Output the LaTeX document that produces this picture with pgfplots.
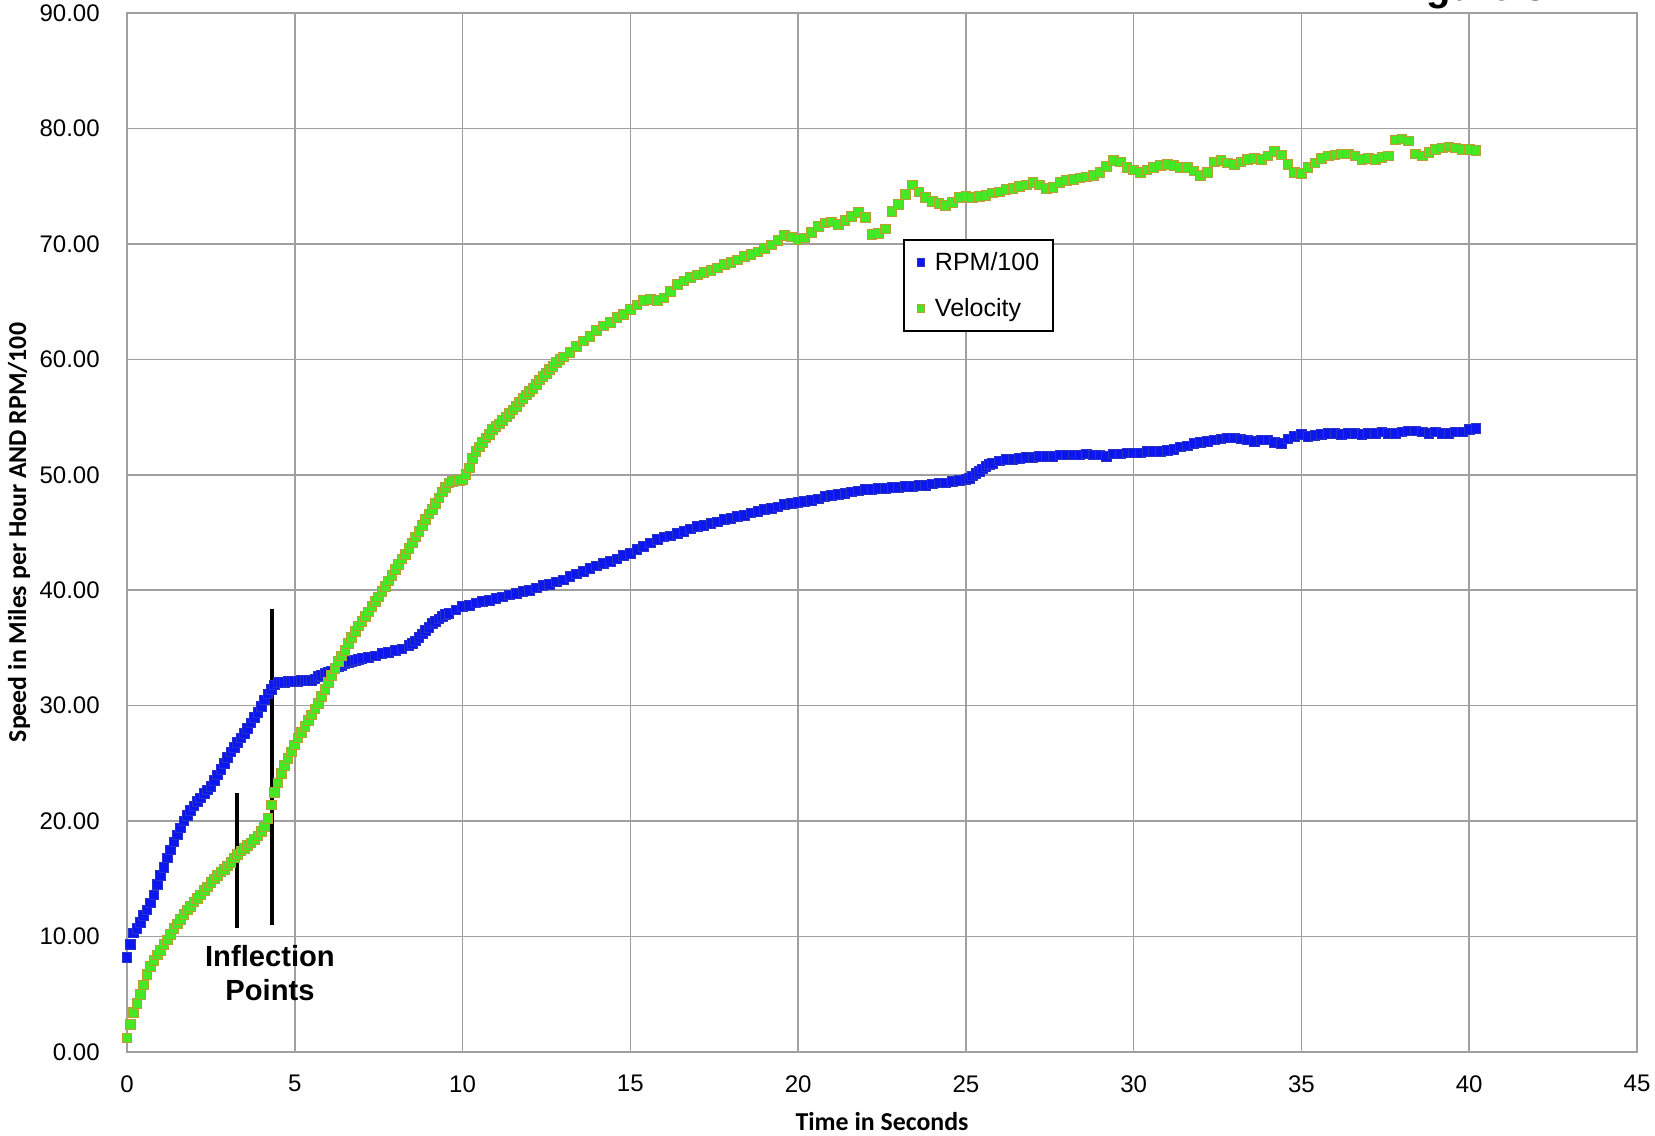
\documentclass[border=0pt]{standalone}
\usepackage{fontspec}
\setmainfont{Liberation Sans}
\newfontfamily\labelfont{Carlito}
\usepackage{pgfplots}
\pgfplotsset{compat=1.18}

\definecolor{rpmfill}{RGB}{12,22,238}
\definecolor{rpmedge}{RGB}{40,50,200}
\definecolor{velfill}{RGB}{70,232,35}
\definecolor{veledge}{RGB}{185,158,50}
\definecolor{gridgray}{RGB}{160,160,160}

\begin{document}
\begin{tikzpicture}
\useasboundingbox (0,0) rectangle (993pt,681pt);
\begin{axis}[
  at={(76.2pt,49.8pt)}, anchor=south west,
  scale only axis, width=906pt, height=623.4pt,
  xmin=0, xmax=45, ymin=0, ymax=90,
  xtick={0,5,...,45}, ytick={0,10,...,90},
  major tick length=0pt,
  grid=major,
  major grid style={gridgray, line width=0.9pt},
  axis line style={gridgray, line width=0.9pt},
  clip=false,
  /pgf/number format/assume math mode=true,
  tick label style={font=\fontsize{14.4}{17}\selectfont, inner sep=0pt},
  y tick label style={/pgf/number format/.cd, fixed, fixed zerofill, precision=2, /tikz/.cd, anchor=east, xshift=-16.2pt},
  x tick label style={anchor=north, yshift=-13.8pt},
  xlabel={Time in Seconds},
  ylabel={Speed in Miles per Hour AND RPM/100},
  label style={font=\labelfont\bfseries\fontsize{15.5}{18}\selectfont, inner sep=0pt},
  xlabel style={at={(axis description cs:0.5,-0.07507)}, anchor=base},
  ylabel style={at={(axis description cs:-0.0715,0.5)}, anchor=center},
  legend style={at={(axis description cs:0.5139,0.7825)}, anchor=north west,
    draw=black, line width=1.2pt, font=\fontsize{15}{18}\selectfont,
    inner xsep=8pt, inner ysep=7.5pt, row sep=15pt, column sep=6pt,
    nodes={inner sep=0pt}},
  legend cell align=left,
  legend image code/.code={\draw[#1, mark size=2.3pt] plot coordinates {(0pt,0pt)};},
]

% engine speed divided by 100
\addplot[only marks, mark=square*, mark size=2.9pt, mark options={fill=rpmfill, draw=rpmedge, line width=0.6pt}]
coordinates {
(0,8.2)(0.1,9.3)(0.2,10.3)(0.3,10.7)(0.4,11.2)(0.5,11.8)(0.6,12.3)(0.7,12.9)(0.8,13.6)(0.9,14.5)
(1.0,15.3)(1.1,16.0)(1.2,16.8)(1.3,17.5)(1.4,18.2)(1.5,18.8)(1.6,19.4)(1.7,20.0)(1.8,20.5)(1.9,20.9)
(2.0,21.3)(2.1,21.7)(2.2,22.0)(2.3,22.4)(2.4,22.7)(2.5,23.0)(2.6,23.5)(2.7,24.0)(2.8,24.5)(2.9,25.0)
(3.0,25.5)(3.1,26.0)(3.2,26.4)(3.3,26.8)(3.4,27.2)(3.5,27.6)(3.6,28.0)(3.7,28.5)(3.8,29.0)(3.9,29.4)
(4.0,29.9)(4.1,30.5)(4.2,31.0)(4.3,31.4)(4.4,31.8)(4.5,32.0)(4.6,32.0)(4.7,32.0)(4.8,32.1)(4.9,32.1)
(5.0,32.1)(5.1,32.1)(5.2,32.2)(5.3,32.2)(5.4,32.2)(5.5,32.2)(5.6,32.3)(5.7,32.5)(5.8,32.6)(5.9,32.8)
(6.0,32.9)(6.1,33.0)(6.2,33.2)(6.3,33.4)(6.4,33.5)(6.5,33.6)(6.6,33.7)(6.7,33.8)(6.8,33.9)(6.9,34.0)
(7.0,34.1)(7.2,34.2)(7.4,34.3)(7.6,34.5)(7.8,34.6)(8.0,34.8)(8.2,34.9)(8.4,35.2)(8.5,35.4)(8.6,35.6)
(8.7,35.9)(8.8,36.2)(8.9,36.5)(9.0,36.8)(9.1,37.1)(9.2,37.3)(9.3,37.5)(9.4,37.7)(9.5,37.9)(9.6,38.0)
(9.8,38.3)(10.0,38.6)(10.2,38.7)(10.4,38.9)(10.6,39.0)(10.8,39.1)
(11.0,39.3)(11.2,39.4)(11.4,39.6)(11.6,39.7)(11.8,39.9)(12.0,40.0)(12.2,40.2)(12.4,40.4)(12.6,40.5)(12.8,40.7)
(13.0,40.9)(13.2,41.2)(13.4,41.4)(13.6,41.6)(13.8,41.9)(14.0,42.1)(14.2,42.3)(14.4,42.5)(14.6,42.7)(14.8,43.0)
(15.0,43.2)(15.2,43.5)(15.4,43.8)(15.6,44.1)(15.8,44.4)(16.0,44.6)(16.2,44.7)(16.4,44.9)(16.6,45.1)(16.8,45.3)
(17.0,45.5)(17.2,45.6)(17.4,45.8)(17.6,45.9)(17.8,46.1)(18.0,46.2)(18.2,46.4)(18.4,46.5)(18.6,46.7)(18.8,46.8)
(19.0,47.0)(19.2,47.1)(19.4,47.2)(19.6,47.4)(19.8,47.5)(20.0,47.6)(20.2,47.7)(20.4,47.8)(20.6,47.9)(20.8,48.1)
(21.0,48.2)(21.2,48.3)(21.4,48.4)(21.6,48.5)(21.8,48.6)(22.0,48.7)(22.2,48.7)(22.4,48.8)(22.6,48.8)(22.8,48.9)
(23.0,48.9)(23.2,49.0)(23.4,49.0)(23.6,49.1)(23.8,49.1)(24.0,49.2)(24.2,49.3)(24.4,49.3)(24.6,49.4)(24.8,49.5)
(25.0,49.6)(25.1,49.7)(25.2,49.9)(25.3,50.1)(25.4,50.3)(25.5,50.5)(25.6,50.7)(25.7,50.9)(25.8,51.0)(26.0,51.2)(26.2,51.3)(26.4,51.3)(26.6,51.4)(26.8,51.5)
(27.0,51.5)(27.2,51.6)(27.4,51.6)(27.6,51.6)(27.8,51.7)(28.0,51.7)(28.2,51.7)(28.4,51.7)(28.6,51.8)(28.8,51.7)
(29.0,51.7)(29.2,51.6)(29.4,51.8)(29.6,51.8)(29.8,51.9)(30.0,51.9)(30.2,51.9)(30.4,52.0)(30.6,52.0)(30.8,52.0)
(31.0,52.1)(31.2,52.2)(31.4,52.4)(31.6,52.5)(31.8,52.7)(32.0,52.8)(32.2,52.9)(32.4,53.0)(32.6,53.1)(32.8,53.2)
(33.0,53.2)(33.2,53.1)(33.4,53.0)(33.6,52.9)(33.8,53.0)(34.0,53.0)(34.2,52.8)(34.4,52.7)(34.6,53.1)(34.8,53.3)
(35.0,53.5)(35.2,53.3)(35.4,53.4)(35.6,53.5)(35.8,53.6)(36.0,53.6)(36.2,53.5)(36.4,53.6)(36.6,53.6)(36.8,53.5)
(37.0,53.6)(37.2,53.6)(37.4,53.7)(37.6,53.6)(37.8,53.6)(38.0,53.7)(38.2,53.8)(38.4,53.8)(38.6,53.7)(38.8,53.6)
(39.0,53.7)(39.2,53.6)(39.4,53.6)(39.6,53.7)(39.8,53.7)(40.0,53.9)(40.2,54.0)
};
\addlegendentry{RPM/100}

% road speed in mph
\addplot[only marks, mark=square*, mark size=2.9pt, mark options={fill=velfill, draw=veledge, line width=0.6pt}]
coordinates {
(0,1.2)(0.1,2.4)(0.2,3.4)(0.3,4.2)(0.4,5.0)(0.5,5.8)(0.6,6.7)(0.7,7.4)(0.8,7.9)(0.9,8.4)
(1.0,8.8)(1.1,9.3)(1.2,9.7)(1.3,10.2)(1.4,10.7)(1.5,11.1)(1.6,11.5)(1.7,11.9)(1.8,12.3)(1.9,12.6)
(2.0,13.0)(2.1,13.3)(2.2,13.6)(2.3,14.0)(2.4,14.3)(2.5,14.7)(2.6,15.0)(2.7,15.3)(2.8,15.6)(2.9,15.8)
(3.0,16.1)(3.1,16.4)(3.2,16.8)(3.3,17.1)(3.4,17.4)(3.5,17.6)(3.6,17.9)(3.7,18.1)(3.8,18.4)(3.9,18.7)
(4.0,19.1)(4.1,19.5)(4.2,20.2)(4.3,21.4)(4.4,22.5)(4.5,23.3)(4.6,24.1)(4.7,24.8)(4.8,25.4)(4.9,26.0)
(5.0,26.6)(5.1,27.2)(5.2,27.7)(5.3,28.2)(5.4,28.7)(5.5,29.2)(5.6,29.7)(5.7,30.2)(5.8,30.8)(5.9,31.4)
(6.0,32.0)(6.1,32.6)(6.2,33.2)(6.3,33.8)(6.4,34.3)(6.5,34.8)(6.6,35.4)(6.7,35.9)(6.8,36.4)(6.9,36.9)
(7.0,37.3)(7.1,37.7)(7.2,38.1)(7.3,38.6)(7.4,39.0)(7.5,39.4)(7.6,39.9)(7.7,40.3)(7.8,40.8)(7.9,41.3)
(8.0,41.8)(8.1,42.2)(8.2,42.7)(8.3,43.1)(8.4,43.6)(8.5,44.1)(8.6,44.6)(8.7,45.1)(8.8,45.6)(8.9,46.1)
(9.0,46.6)(9.1,47.0)(9.2,47.5)(9.3,48.0)(9.4,48.5)(9.5,48.9)(9.6,49.3)(9.7,49.4)(9.8,49.5)(9.9,49.5)
(10.0,49.6)(10.1,50.0)(10.2,50.6)(10.3,51.4)(10.4,52.0)(10.5,52.4)(10.6,52.8)(10.7,53.2)(10.8,53.5)(10.9,53.9)
(11.0,54.2)(11.1,54.4)(11.2,54.7)(11.3,55.0)(11.4,55.3)(11.5,55.6)(11.6,55.9)(11.7,56.3)(11.8,56.6)(11.9,56.9)
(12.0,57.2)(12.1,57.5)(12.2,57.8)(12.3,58.2)(12.4,58.5)(12.5,58.8)(12.6,59.1)(12.7,59.4)(12.8,59.7)(12.9,60.0)
(13.0,60.2)(13.2,60.6)(13.4,61.1)(13.6,61.6)(13.8,62.0)(14.0,62.5)(14.2,62.9)(14.4,63.2)(14.6,63.6)(14.8,63.9)
(15.0,64.3)(15.2,64.7)(15.4,65.1)(15.6,65.2)(15.8,65.1)(16.0,65.3)(16.2,65.9)(16.4,66.5)(16.6,66.8)(16.8,67.1)
(17.0,67.3)(17.2,67.5)(17.4,67.7)(17.6,67.9)(17.8,68.2)(18.0,68.4)(18.2,68.6)(18.4,68.9)(18.6,69.1)(18.8,69.3)
(19.0,69.6)(19.2,69.9)(19.4,70.3)(19.6,70.7)(19.8,70.6)(20.0,70.4)(20.2,70.5)(20.4,71.0)(20.6,71.5)(20.8,71.8)
(21.0,71.9)(21.2,71.7)(21.4,72.0)(21.6,72.4)(21.8,72.7)(22.0,72.3)(22.2,70.8)(22.4,70.9)(22.6,71.3)(22.8,72.8)
(23.0,73.4)(23.2,74.3)(23.4,75.1)(23.6,74.5)(23.8,74.0)(24.0,73.7)(24.2,73.5)(24.4,73.3)(24.6,73.6)(24.8,74.0)
(25.0,74.1)(25.2,74.0)(25.4,74.1)(25.6,74.2)(25.8,74.4)(26.0,74.5)(26.2,74.7)(26.4,74.8)(26.6,75.0)(26.8,75.1)
(27.0,75.3)(27.2,75.1)(27.4,74.8)(27.6,74.9)(27.8,75.3)(28.0,75.5)(28.2,75.6)(28.4,75.7)(28.6,75.8)(28.8,75.9)
(29.0,76.2)(29.2,76.7)(29.4,77.2)(29.6,77.1)(29.8,76.6)(30.0,76.4)(30.2,76.2)(30.4,76.4)(30.6,76.6)(30.8,76.8)
(31.0,76.9)(31.2,76.8)(31.4,76.6)(31.6,76.6)(31.8,76.3)(32.0,75.9)(32.2,76.2)(32.4,77.1)(32.6,77.2)(32.8,77.0)
(33.0,76.9)(33.2,77.1)(33.4,77.3)(33.6,77.4)(33.8,77.3)(34.0,77.6)(34.2,78.0)(34.4,77.7)(34.6,76.9)(34.8,76.2)
(35.0,76.1)(35.2,76.6)(35.4,77.0)(35.6,77.4)(35.8,77.6)(36.0,77.7)(36.2,77.8)(36.4,77.8)(36.6,77.6)(36.8,77.3)
(37.0,77.4)(37.2,77.3)(37.4,77.5)(37.6,77.6)(37.8,79.0)(38.0,79.1)(38.2,78.9)(38.4,77.8)(38.6,77.6)(38.8,77.9)
(39.0,78.2)(39.2,78.3)(39.4,78.4)(39.6,78.3)(39.8,78.2)(40.0,78.2)(40.2,78.1)
};
\addlegendentry{Velocity}

% inflection markers
\draw[black, line width=2.8pt] (axis cs:3.28,10.7) -- (axis cs:3.28,22.4);
\draw[black, line width=2.8pt] (axis cs:4.32,11.0) -- (axis cs:4.32,38.4);
\node[anchor=north, align=center, inner sep=0pt, font=\bfseries\fontsize{17.5}{20.4}\selectfont]
  at (axis cs:4.26,9.3) {Inflection\\Points};
\end{axis}
\node[anchor=base east, inner sep=0pt, font=\bfseries\fontsize{24}{27}\selectfont] at (928pt,680.5pt) {Figure 3};
\end{tikzpicture}
\end{document}
